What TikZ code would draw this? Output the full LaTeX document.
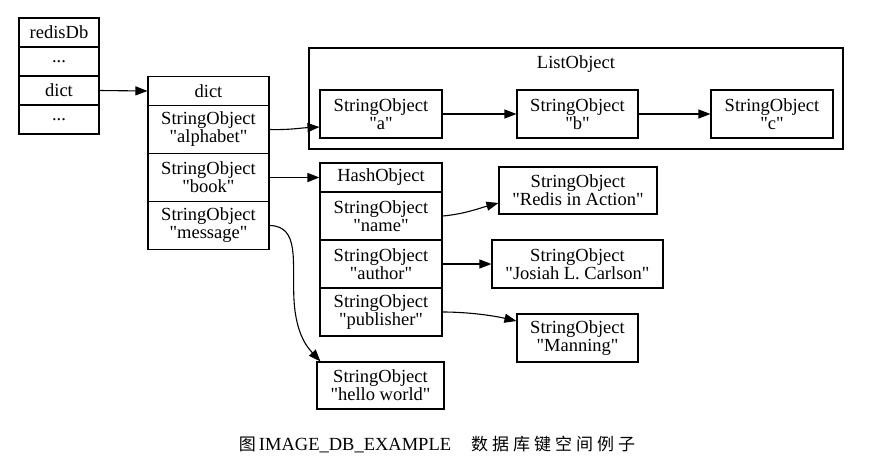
\documentclass[tikz,border=0pt]{standalone}
\usepackage{fontspec}
\setmainfont{Liberation Serif}[Ligatures=TeXOff]
\newfontfamily\cjk{Noto Sans CJK SC}
\usetikzlibrary{arrows.meta}
\newcommand\qq{\symbol{34}}
\begin{document}
\begin{tikzpicture}[x=1pt,y=-1pt,
  cell/.style={draw, rectangle, inner sep=0pt, align=center, line width=1.1pt,
    font=\fontsize{18.5}{18}\selectfont},
  arr/.style={-{Triangle[length=12pt,width=9pt]}, line width=1.1pt}]
\useasboundingbox (0,0) rectangle (896,472);
% redisDb
\node[cell, minimum width=80pt, minimum height=29pt] (r0) at (59,32.5) {redisDb};
\node[cell, minimum width=80pt, minimum height=29pt] (r1) at (59,61.5) {...};
\node[cell, minimum width=80pt, minimum height=29pt] (r2) at (59,90.5) {dict};
\node[cell, minimum width=80pt, minimum height=29pt] (r3) at (59,119.5) {...};
% dict
\node[cell, minimum width=121pt, minimum height=29pt] (d0) at (208.5,91) {dict};
\node[cell, minimum width=121pt, minimum height=48pt] (d1) at (208.5,129.5) {StringObject\\ \qq alphabet\qq};
\node[cell, minimum width=121pt, minimum height=48pt] (d2) at (208.5,177.5) {StringObject\\ \qq book\qq};
\node[cell, minimum width=121pt, minimum height=48pt] (d3) at (208.5,225.5) {StringObject\\ \qq message\qq};
% ListObject cluster
\node[draw, rectangle, line width=1.1pt, minimum width=534pt, minimum height=101pt, inner sep=0pt] (cl) at (576,98.5) {};
\node[font=\fontsize{18.5}{18}\selectfont, inner sep=0pt] (cllab) at (576,64) {ListObject};
\node[cell, minimum width=122pt, minimum height=48pt] (la) at (381,114) {StringObject\\ \qq a\qq};
\node[cell, minimum width=121pt, minimum height=48pt] (lb) at (577.5,114) {StringObject\\ \qq b\qq};
\node[cell, minimum width=122pt, minimum height=48pt] (lc) at (772,114) {StringObject\\ \qq c\qq};
% HashObject
\node[cell, minimum width=122pt, minimum height=29pt] (h0) at (381,177.5) {HashObject};
\node[cell, minimum width=122pt, minimum height=48pt] (h1) at (381,216) {StringObject\\ \qq name\qq};
\node[cell, minimum width=122pt, minimum height=48pt] (h2) at (381,264) {StringObject\\ \qq author\qq};
\node[cell, minimum width=122pt, minimum height=48pt] (h3) at (381,312) {StringObject\\ \qq publisher\qq};
% values
\node[cell, minimum width=158pt, minimum height=47pt] (vr) at (578,190.5) {StringObject\\ \qq Redis in Action\qq};
\node[cell, minimum width=171pt, minimum height=48pt] (vj) at (577.5,264) {StringObject\\ \qq Josiah L. Carlson\qq};
\node[cell, minimum width=121pt, minimum height=48pt] (vm) at (577.5,338) {StringObject\\ \qq Manning\qq};
\node[cell, minimum width=127pt, minimum height=47pt] (vh) at (380.5,385.5) {StringObject\\ \qq hello world\qq};
% edges
\draw[arr] (r2.east) -- (d0.west);
\draw[arr] (d1.east) .. controls (290,130) and (300,128) .. (la.west |- 0,127);
\draw[arr] (d2.east) -- (h0.west);
\draw[arr] (d3.east) .. controls (300,226) and (292,262) .. (294,300)
  .. controls (296,335) and (308,348) .. ([xshift=4pt]vh.north west);
\draw[arr] (la.east) -- (lb.west);
\draw[arr] (lb.east) -- (lc.west);
\draw[arr] (h1.east) .. controls (465,214) and (480,208) .. (vr.west |- 0,203);
\draw[arr] (h2.east) -- (vj.west);
\draw[arr] (h3.east) .. controls (470,312) and (495,316) .. (vm.west |- 0,321);
% caption
\node[inner sep=0pt, font=\fontsize{18.5}{20}\selectfont] (cap) at (437,444)
  {{\cjk\fontsize{17}{20}\selectfont 图}\,IMAGE\_DB\_EXAMPLE\hspace{20pt}{\cjk\fontsize{17}{20}\selectfont 数\hspace{4pt}据\hspace{4pt}库\hspace{4pt}键\hspace{4pt}空\hspace{4pt}间\hspace{4pt}例\hspace{4pt}子}};
\end{tikzpicture}
\end{document}
